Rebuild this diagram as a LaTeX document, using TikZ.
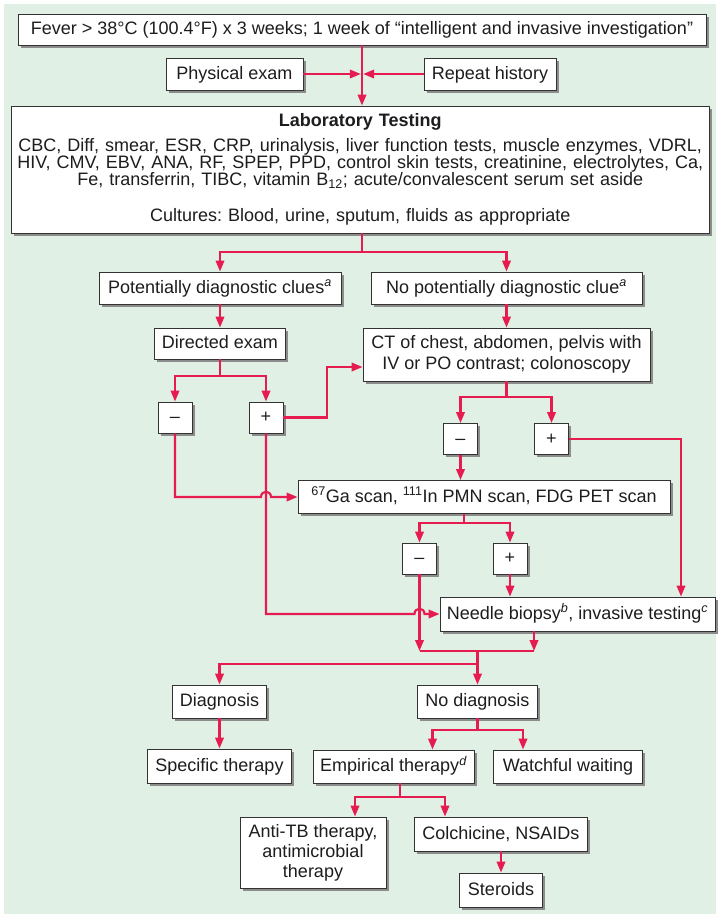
\documentclass[tikz,border=0pt]{standalone}
\usepackage{fontspec}
\setmainfont{Liberation Sans}
\frenchspacing
\usetikzlibrary{arrows.meta,shadows,calc}
\definecolor{bgg}{RGB}{224,240,229}
\definecolor{lnk}{RGB}{230,28,80}
\definecolor{txt}{RGB}{30,28,28}
\begin{document}
\begin{tikzpicture}[x=1pt,y=-1pt,
  box/.style={draw=black!80, line width=0.9pt, fill=white, inner sep=0pt, text=txt,
     drop shadow={shadow xshift=2.5pt,shadow yshift=-2.5pt,fill=black!45,opacity=1},
     font=\fontsize{18}{21}\selectfont},
  one/.style={box, text height=13pt, text depth=3pt},
  sgn/.style={one, minimum width=34pt, minimum height=31pt},
  link/.style={draw=lnk, line width=2.1pt},
  arr/.style={link, -{Triangle[length=11pt,width=8.5pt]}},
]
\useasboundingbox (0,0) rectangle (718,914);
\fill[bgg] (4,4) rectangle (716,914);

% nodes
\node[one, minimum width=688pt, minimum height=31pt] (fever) at (362,29.5) {Fever > 38°C (100.4°F) x 3 weeks; 1 week of “intelligent and invasive investigation”};
\node[one, minimum width=137pt, minimum height=32pt] (phys) at (234.5,74) {Physical exam};
\node[one, minimum width=132pt, minimum height=32pt] (hist) at (490,74) {Repeat history};
\node[box, minimum width=697.5pt, minimum height=127pt, text width=690pt, align=center] (lab) at (360.25,169.5)
 {\lineskiplimit=-20pt\fontsize{18}{16.7}\selectfont{\bfseries Laboratory Testing}\\[8.3pt]CBC, Diff, smear, ESR, CRP, urinalysis, liver function tests, muscle enzymes, VDRL,\\HIV, CMV, EBV, ANA, RF, SPEP, PPD, control skin tests, creatinine, electrolytes, Ca,\\Fe, transferrin, TIBC, vitamin B\textsubscript{12}; acute/convalescent serum set aside\\[19.3pt]Cultures: Blood, urine, sputum, fluids as appropriate\par};
\node[one, minimum width=242pt, minimum height=32pt] (pdc) at (220,288) {Potentially diagnostic clues\textsuperscript{\itshape a}};
\node[one, minimum width=271pt, minimum height=32pt] (npdc) at (506.5,288) {No potentially diagnostic clue\textsuperscript{\itshape a}};
\node[one, minimum width=131pt, minimum height=31pt] (dexam) at (220,343.5) {Directed exam};
\node[box, align=center, minimum width=287pt, minimum height=53pt, font=\fontsize{18}{21.5}\selectfont] (ct) at (506.5,354.5) {CT of chest, abdomen, pelvis with\\IV or PO contrast; colonoscopy};
\node[sgn] (dminus) at (175,417.5) {–};
\node[sgn] (dplus) at (266,417.5) {+};
\node[sgn] (cminus) at (460.5,439) {–};
\node[sgn] (cplus) at (551.5,439) {+};
\node[one, minimum width=372pt, minimum height=33pt] (ga) at (484,497) {\textsuperscript{67}Ga scan, \textsuperscript{111}In PMN scan, FDG PET scan};
\node[sgn] (gminus) at (419.5,558.5) {–};
\node[sgn] (gplus) at (510,558.5) {+};
\node[one, minimum width=275pt, minimum height=34pt] (needle) at (577.5,614) {Needle biopsy\textsuperscript{\itshape b}, invasive testing\textsuperscript{\itshape c}};
\node[one, minimum width=94.5pt, minimum height=33pt] (diag) at (219.5,701.5) {Diagnosis};
\node[one, minimum width=120pt, minimum height=33pt] (ndiag) at (477.5,701.5) {No diagnosis};
\node[one, minimum width=143.5pt, minimum height=34pt] (spec) at (219.5,766) {Specific therapy};
\node[one, minimum width=161pt, minimum height=33pt] (emp) at (393.5,766.5) {Empirical therapy\textsuperscript{\itshape d}};
\node[one, minimum width=148.5pt, minimum height=33pt] (watch) at (568,766.5) {Watchful waiting};
\node[box, align=center, minimum width=146pt, minimum height=71pt, font=\fontsize{18}{20}\selectfont] (antitb) at (313,852.5) {Anti-TB therapy,\\antimicrobial\\therapy};
\node[one, minimum width=172.5pt, minimum height=34pt] (colch) at (501,834) {Colchicine, NSAIDs};
\node[one, minimum width=83pt, minimum height=34pt] (ster) at (501,890) {Steroids};

% junction coordinates
\coordinate (m0) at (362,74);
\coordinate (j1) at (362,252);
\coordinate (j2) at (220,376);
\coordinate (k1) at (327,367);
\coordinate (j3) at (506.5,397);
\coordinate (j4) at (464,523);
\coordinate (j5) at (419.5,651);
\coordinate (j6) at (534,651);
\coordinate (j7) at (477.5,651);
\coordinate (j8) at (477.5,664);
\coordinate (j9) at (477.5,730);
\coordinate (j10) at (400,797);

% connectors
\draw[arr] (fever.south) -- (fever.south |- lab.north);
\draw[arr] (phys.east) -- ($(m0)+(-1.2,0)$);
\draw[arr] (hist.west) -- ($(m0)+(1.2,0)$);
\draw[link] (j1 |- lab.south) -- (j1);
\draw[arr] (j1) -| (pdc.north);
\draw[arr] (j1) -| (npdc.north);
\draw[arr] (pdc.south) -- (dexam.north);
\draw[arr] (npdc.south) -- (npdc.south |- ct.north);
\draw[link] (dexam.south) -- (j2);
\draw[arr] (j2) -| (dminus.north);
\draw[arr] (j2) -| (dplus.north);
\draw[arr] (dplus.east) -| (k1) -- (ct.west |- k1);
\draw[link] (ct.south) -- (j3);
\draw[arr] (j3) -| (cminus.north);
\draw[arr] (j3) -| (cplus.north);
\draw[arr] (cplus.east) -| (needle.north -| 681,0);
\draw[arr] (cminus.south) -- (cminus.south |- ga.north);
\draw[arr] (dminus.south) |- (261,497) .. controls (261,490) and (271,490) .. (271,497) -- (ga.west);
\draw[link] (j4 |- ga.south) -- (j4);
\draw[arr] (j4) -| (gminus.north);
\draw[arr] (j4) -| (gplus.north);
\draw[arr] (gplus.south) -- (gplus.south |- needle.north);
\draw[arr] (dplus.south) |- (414.5,614) .. controls (414.5,607) and (424.5,607) .. (424.5,614) -- (needle.west);
\draw[arr] (gminus.south) -- (j5);
\draw[arr] (j6 |- needle.south) -- (j6);
\draw[link] (j5) -- (j6);
\draw[link] (j7) -- (j8);
\draw[arr] (j8) -| (diag.north);
\draw[arr] (j8) -| (ndiag.north);
\draw[arr] (diag.south) -- (spec.north);
\draw[link] (ndiag.south) -- (j9);
\draw[arr] (j9) -| (emp.north -| 432.5,0);
\draw[arr] (j9) -| (watch.north -| 523,0);
\draw[link] (j10 |- emp.south) -- (j10);
\draw[arr] (j10) -| (antitb.north -| 355,0);
\draw[arr] (j10) -| (colch.north -| 445,0);
\draw[arr] (colch.south) -- (ster.north);
\end{tikzpicture}
\end{document}
